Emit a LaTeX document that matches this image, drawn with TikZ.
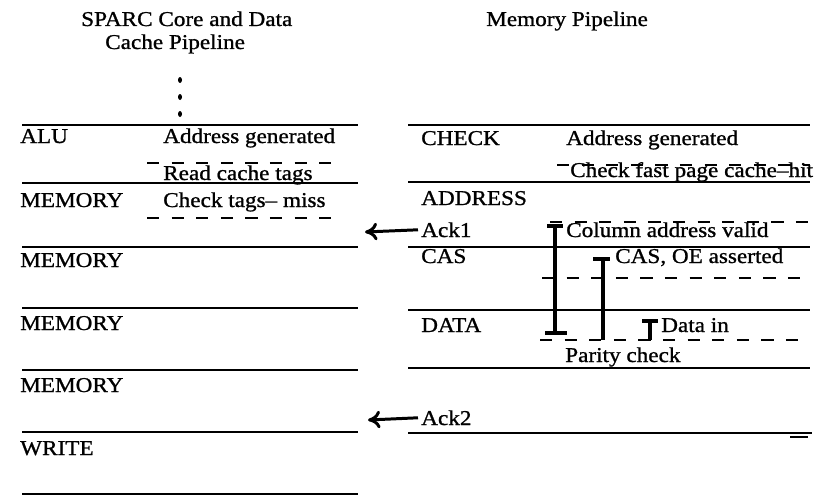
\documentclass[tikz,border=0pt]{standalone}
\usepackage{fontspec}
\setmainfont{Liberation Serif}[FakeStretch=1.1, UprightFeatures={FakeBold=1}]
\usepackage{tikz}
\usetikzlibrary{arrows.meta}

\begin{document}
\begin{tikzpicture}[x=0.02cm, y=-0.02cm, line width=1.7pt,
    >={Computer Modern Rightarrow[length=7pt,width=10pt]},
    txt/.style = {anchor=base west, inner sep=1pt, font=\fontsize{12}{14}\selectfont},
    sep/.style = {dash pattern=on 7pt off 7pt},
    bar/.style = {line width=1.8pt}]
    \useasboundingbox (0,0) rectangle (823,497);

    % titles
    \node[txt] (t1) at (78,26) {SPARC Core and Data};
    \node[txt] (t2) at (102,49) {Cache Pipeline};
    \node[txt] (t3) at (483,26) {Memory Pipeline};
    \fill (180,80) ellipse (2 and 3) (180,97) ellipse (2 and 3) (180,114) ellipse (2 and 3);

    % left pipeline
    \draw (22,125) -- (358,125);
    \draw (22,183) -- (358,183);
    \draw (22,247) -- (358,247);
    \draw (22,308) -- (358,308);
    \draw (22,370) -- (358,370);
    \draw (22,432) -- (358,432);
    \draw (22,494) -- (358,494);
    \draw[sep] (147,163) -- (340,163);
    \draw[sep] (147,218) -- (340,218);
    \node[txt] (alu) at (17,143) {ALU};
    \node[txt] (gen1) at (160,143) {Address generated};
    \node[txt] (tags) at (160,180) {Read cache tags};
    \node[txt] (mem1) at (17,207) {MEMORY};
    \node[txt] (miss) at (160,207) {Check tags\textendash\ miss};
    \node[txt] (mem2) at (17,267) {MEMORY};
    \node[txt] (mem3) at (17,330) {MEMORY};
    \node[txt] (mem4) at (17,392) {MEMORY};
    \node[txt] (write) at (17,455) {WRITE};

    % memory pipeline
    \draw (408,125) -- (810,125);
    \draw (408,182) -- (810,182);
    \draw (408,247) -- (810,247);
    \draw (408,310) -- (810,310);
    \draw (408,368) -- (810,368);
    \draw (408,433) -- (812,433);
    \draw[line width=1.2pt] (790,437) -- (808,437);
    \draw[sep] (557,165) -- (810,165);
    \draw[sep] (550,222) -- (810,222);
    \draw[sep] (542,278) -- (800,278);
    \draw[sep] (540,340) -- (798,340);
    \node[txt] (check) at (418,145) {CHECK};
    \node[txt] (gen2) at (563,145) {Address generated};
    \node[txt] (hit) at (567,177) {Check fast page cache\textendash hit};
    \node[txt] (addr) at (418,205) {ADDRESS};
    \node[txt] (ack1) at (418,237) {Ack1};
    \node[txt] (col) at (563,237) {Column address valid};
    \node[txt] (cas) at (418,263) {CAS};
    \node[txt] (oe) at (612,263) {CAS, OE asserted};
    \node[txt] (data) at (418,332) {DATA};
    \node[txt] (din) at (658,332) {Data in};
    \node[txt] (par) at (562,362) {Parity check};
    \node[txt] (ack2) at (418,425) {Ack2};

    % timing bars
    \draw[bar] (547,226) -- (563,226) (555,226) -- (555,333) (545,333) -- (567,333);
    \draw[bar] (593,259) -- (610,259) (603,259) -- (603,340);
    \draw[bar] (642,321) -- (658,321) (650,321) -- (650,340);

    % acknowledges
    \coordinate (a1) at (365,232);
    \coordinate (a2) at (368,420);
    \draw[->] (ack1.west) -- (a1);
    \draw[->] (ack2.west) -- (a2);
\end{tikzpicture}
\end{document}
